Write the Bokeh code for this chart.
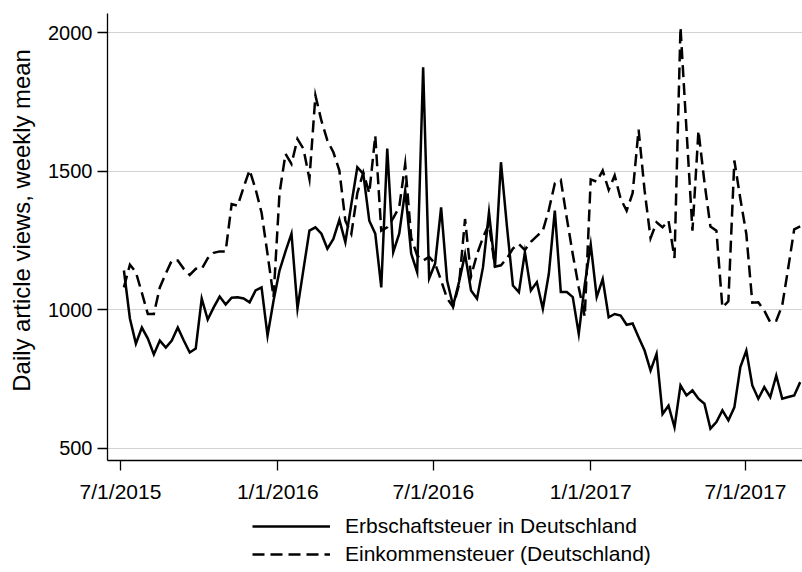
import pandas as pd
from bokeh.plotting import figure
from bokeh.layouts import column
from bokeh.models import Range1d, FixedTicker, Legend, LegendItem
from bokeh.embed import file_html
from bokeh.resources import INLINE

# Weekly means of daily article views
erbschaftsteuer = [
    1141, 968, 877, 935, 895, 838, 888, 863, 888, 935,
    888, 845, 859, 1040, 964, 1008, 1047, 1018, 1043, 1044,
    1040, 1026, 1069, 1080, 906, 1032, 1141, 1210, 1274, 1004,
    1145, 1285, 1297, 1274, 1220, 1255, 1324, 1243, 1380, 1514,
    1490, 1321, 1274, 1080, 1581, 1207, 1274, 1430, 1202, 1135,
    1875, 1112, 1166, 1369, 1105, 1014, 1100, 1200, 1069, 1039,
    1153, 1351, 1153, 1532, 1300, 1087, 1063, 1207, 1069, 1099,
    1003, 1129, 1357, 1063, 1063, 1045, 912, 1090, 1235, 1045,
    1110, 972, 984, 978, 945, 950, 900, 852, 780, 840,
    623, 653, 575, 726, 690, 708, 678, 660, 570, 594,
    636, 600, 647, 792, 852, 726, 678, 720, 684, 762,
    678, 684, 690, 738,
]
einkommensteuer = [
    1080, 1162, 1135, 1060, 984, 984, 1080, 1130, 1177, 1177,
    1147, 1125, 1147, 1147, 1185, 1205, 1210, 1210, 1381, 1375,
    1441, 1504, 1435, 1350, 1200, 1045, 1420, 1562, 1526, 1616,
    1580, 1472, 1773, 1682, 1610, 1568, 1502, 1321, 1273, 1420,
    1495, 1420, 1628, 1285, 1297, 1330, 1370, 1526, 1260, 1195,
    1177, 1190, 1166, 1105, 1040, 1010, 1090, 1327, 1120, 1200,
    1260, 1309, 1155, 1160, 1185, 1220, 1237, 1215, 1245, 1265,
    1285, 1360, 1455, 1468, 1330, 1200, 1080, 975, 1470, 1462,
    1502, 1432, 1484, 1400, 1357, 1420, 1650, 1430, 1258, 1315,
    1297, 1321, 1186, 2019, 1650, 1285, 1646, 1460, 1300, 1285,
    1008, 1030, 1538, 1400, 1273, 1025, 1026, 996, 954, 960,
    1015, 1150, 1290, 1300,
]
series_labels = ["Erbschaftsteuer in Deutschland", "Einkommensteuer (Deutschland)"]

first_week = "2015-07-05"
origin_date = "2015-07-01"
tick_dates = ["2015-07-01", "2016-01-01", "2016-07-01", "2017-01-01", "2017-07-01"]
tick_labels = ["7/1/2015", "1/1/2016", "7/1/2016", "1/1/2017", "7/1/2017"]
y_ticks = [500, 1000, 1500, 2000]
y_title = "Daily article views, weekly mean"

origin = pd.Timestamp(origin_date)
weeks = pd.date_range(first_week, periods=len(erbschaftsteuer), freq="7D")
x = [int((d - origin).days) for d in weeks]
tick_pos = [int((pd.Timestamp(d) - origin).days) for d in tick_dates]

FONT = "Liberation Sans"
SOLID = dict(line_color="black", line_width=2.5, line_join="miter")
DASHED = dict(line_color="black", line_width=2.5, line_join="miter", line_dash="12 6")

# ---------------- main chart ----------------
p = figure(width=802, height=512,
           x_range=Range1d(-15.2, 797.7), y_range=Range1d(455, 2069),
           output_backend="svg", toolbar_location=None,
           min_border_left=107, min_border_right=0,
           min_border_top=13, min_border_bottom=52)
p.outline_line_color = None
p.background_fill_color = "white"
p.border_fill_color = "white"

p.xgrid.visible = False
p.ygrid.ticker = FixedTicker(ticks=y_ticks)
p.ygrid.grid_line_color = "#d2d2d2"
p.ygrid.grid_line_width = 1

p.yaxis.ticker = FixedTicker(ticks=y_ticks)
p.yaxis.minor_tick_line_color = None
p.yaxis.major_tick_out = 10
p.yaxis.major_tick_in = 0
p.yaxis.major_label_standoff = 5
p.yaxis.major_label_text_font = FONT
p.yaxis.major_label_text_font_size = "20px"
p.yaxis.major_label_text_color = "black"
p.yaxis.axis_label = "\u00a0" * 5 + y_title
p.yaxis.axis_label_text_font = FONT
p.yaxis.axis_label_text_font_size = "23.9px"
p.yaxis.axis_label_text_font_style = "normal"
p.yaxis.axis_label_text_color = "black"
p.yaxis.axis_label_standoff = 10

p.xaxis.ticker = FixedTicker(ticks=tick_pos)
p.xaxis.major_label_overrides = dict(zip(tick_pos, tick_labels))
p.xaxis.minor_tick_line_color = None
p.xaxis.major_tick_out = 10
p.xaxis.major_tick_in = 0
p.xaxis.major_label_standoff = 9
p.xaxis.major_label_text_font = FONT
p.xaxis.major_label_text_font_size = "21px"
p.xaxis.major_label_text_color = "black"

for ax in (p.xaxis, p.yaxis):
    ax.axis_line_color = "black"
    ax.axis_line_width = 1.3
    ax.major_tick_line_color = "black"
    ax.major_tick_line_width = 1.3

p.line(x, erbschaftsteuer, **SOLID)
p.line(x, einkommensteuer, **DASHED)

# ---------------- legend strip ----------------
# the same series are drawn here too, but outside the visible range,
# so only their legend samples show
lg = figure(width=802, height=60, output_backend="svg", toolbar_location=None,
            x_range=Range1d(0, 1), y_range=Range1d(0, 1),
            min_border_left=0, min_border_right=0, min_border_top=0, min_border_bottom=0)
lg.axis.visible = False
lg.grid.visible = False
lg.outline_line_color = None
lg.border_fill_color = "white"
lg.background_fill_color = "white"
k1 = lg.line(x, erbschaftsteuer, **SOLID)
k2 = lg.line(x, einkommensteuer, **DASHED)

legend = Legend(
    items=[LegendItem(label=series_labels[0], renderers=[k1]),
           LegendItem(label=series_labels[1], renderers=[k2])],
    location=(145, 6), orientation="vertical",
    glyph_width=78, glyph_height=24, label_height=24, label_standoff=15,
    spacing=4, padding=0, margin=0,
    border_line_alpha=0, background_fill_alpha=0,
    label_text_font=FONT, label_text_font_size="21px", label_text_color="black",
)
lg.add_layout(legend)

layout = column(p, lg, spacing=0)
open("out.html", "w").write(file_html(layout, INLINE))
